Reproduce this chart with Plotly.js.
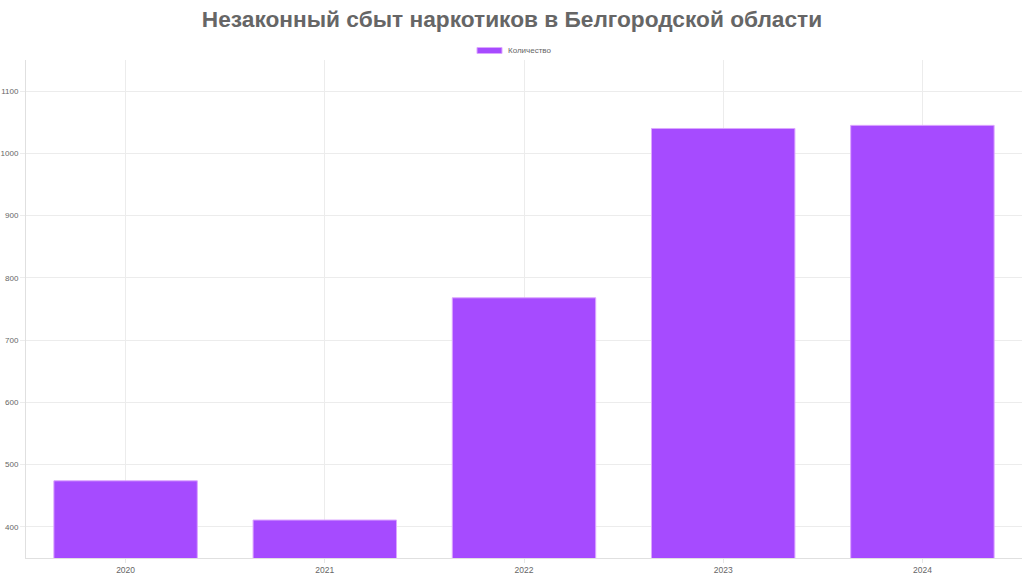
<!DOCTYPE html>
<html>
<head>
<meta charset="utf-8">
<script src="https://cdn.plot.ly/plotly-3.0.1.min.js"></script>
<style>html,body{margin:0;padding:0;background:#fff;}#chart{width:1024px;height:577px;}</style>
</head>
<body>
<div id="chart"></div>
<script>
const years = ["2020", "2021", "2022", "2023", "2024"];
const counts = [474, 411, 768, 1040, 1045];
const seriesName = "Количество";
const chartTitle = "Незаконный сбыт наркотиков в Белгородской области";
const yTicks = [400, 500, 600, 700, 800, 900, 1000, 1100];

const barColor = "#a64bff";

const trace = {
  type: "bar",
  x: years,
  y: counts,
  name: seriesName,
  showlegend: false,
  marker: {color: barColor, line: {color: "#dca6ff", width: 1}},
  hoverinfo: "x+y"
};

const layout = {
  width: 1024,
  height: 577,
  margin: {l: 26, r: 2, t: 60, b: 19},
  paper_bgcolor: "#fff",
  plot_bgcolor: "#fff",
  font: {family: "Liberation Sans, Arial, sans-serif", color: "#666", size: 8.5},
  title: {
    text: "<b>" + chartTitle + "</b>",
    font: {family: "Liberation Sans, Arial, sans-serif", size: 22.7, color: "#666"},
    x: 0.5, xanchor: "center", y: 0.967, yanchor: "middle"
  },
  showlegend: false,
  bargap: 0.28,
  shapes: [{
    type: "rect", xref: "paper", yref: "paper",
    x0: (477 - 26) / 996, x1: (502 - 26) / 996,
    y0: (558 - 53.5) / 498, y1: (558 - 47.5) / 498,
    fillcolor: barColor, line: {color: "#dca6ff", width: 1}
  }],
  annotations: [{
    text: seriesName, xref: "paper", yref: "paper",
    x: (506 - 26) / 996, xanchor: "left",
    y: (558 - 50.5) / 498, yanchor: "middle",
    showarrow: false, font: {size: 8, color: "#666"}
  }],
  xaxis: {
    type: "category",
    showgrid: true, gridcolor: "#ececec", gridwidth: 1,
    showline: true, linecolor: "#e0e0e0", linewidth: 1,
    ticks: "outside", ticklen: 4, tickcolor: "#e6e6e6",
    tickfont: {size: 8.5, color: "#666"},
    zeroline: false
  },
  yaxis: {
    range: [350, 1150],
    tickvals: yTicks,
    showgrid: true, gridcolor: "#ececec", gridwidth: 1,
    showline: true, linecolor: "#e0e0e0", linewidth: 1,
    ticks: "outside", ticklen: 5, tickcolor: "#ececec",
    ticklabelstandoff: 0,
    tickfont: {size: 8, color: "#666"},
    zeroline: false
  }
};

Plotly.newPlot("chart", [trace], layout, {displayModeBar: false, staticPlot: true});
</script>
</body>
</html>
